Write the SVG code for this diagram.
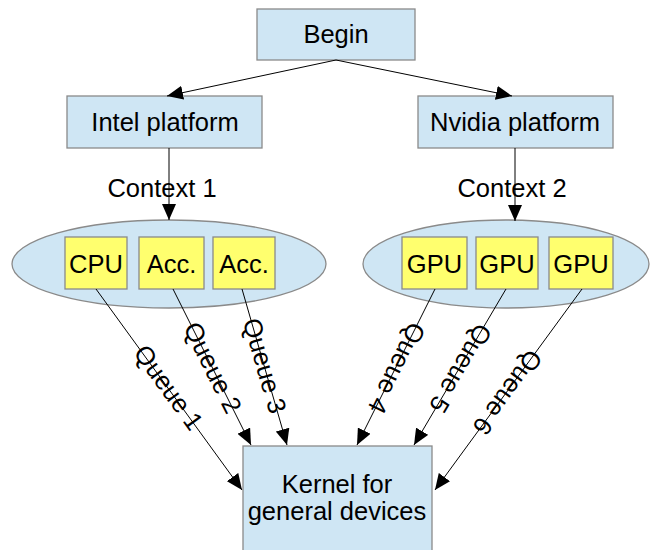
<svg xmlns="http://www.w3.org/2000/svg" width="652" height="550" viewBox="0 0 652 550">
<style>
text{font-family:"Liberation Sans",Arial,sans-serif;font-size:25.5px;fill:#000}
.box{fill:#cfe6f4;stroke:#8a8a8a;stroke-width:1.3}
.dev{fill:#ffff6e;stroke:#8a8a8a;stroke-width:1.3}
.ell{fill:#cfe6f4;stroke:#8a8a8a;stroke-width:1.3}
.c{stroke:#000;stroke-width:1;fill:none;marker-end:url(#ah)}
.m{text-anchor:middle}
</style>
<defs>
<marker id="ah" markerUnits="userSpaceOnUse" markerWidth="18" markerHeight="14" refX="16" refY="7" orient="auto">
<path d="M0,0 L16,7 L0,14 Z" fill="#000"/>
</marker>
</defs>
<g id="begin"><rect class="box" x="257" y="9" width="158" height="51"/><text class="m" x="336" y="43">Begin</text></g>
<g id="intel"><rect class="box" x="67" y="96" width="195" height="52"/><text class="m" x="165" y="131">Intel platform</text></g>
<g id="nvidia"><rect class="box" x="418" y="96" width="195" height="52"/><text class="m" x="515" y="131">Nvidia platform</text></g>
<g id="ctx1"><ellipse class="ell" cx="169" cy="264" rx="157" ry="44"/></g>
<g id="ctx2"><ellipse class="ell" cx="506" cy="264" rx="143" ry="44"/></g>
<g id="cpu"><rect class="dev" x="65" y="237" width="62" height="52"/><text class="m" x="96" y="273">CPU</text></g>
<g id="acc1"><rect class="dev" x="139" y="237" width="65" height="52"/><text class="m" x="171.5" y="273">Acc.</text></g>
<g id="acc2"><rect class="dev" x="213" y="237" width="62" height="52"/><text class="m" x="244" y="273">Acc.</text></g>
<g id="gpu1"><rect class="dev" x="402" y="237" width="65" height="52"/><text class="m" x="434.5" y="273">GPU</text></g>
<g id="gpu2"><rect class="dev" x="476" y="237" width="62" height="52"/><text class="m" x="507" y="273">GPU</text></g>
<g id="gpu3"><rect class="dev" x="549" y="237" width="64" height="52"/><text class="m" x="581" y="273">GPU</text></g>
<g id="kernel"><rect class="box" x="243" y="446" width="189" height="110"/><text class="m" x="337" y="493">Kernel for</text><text class="m" x="337" y="520">general devices</text></g>
<g id="connectors">
<line class="c" x1="336" y1="60" x2="167" y2="96"/>
<line class="c" x1="336" y1="60" x2="512" y2="96"/>
<line class="c" x1="169" y1="148" x2="169" y2="220"/>
<line class="c" x1="515" y1="148" x2="515" y2="221"/>
<line class="c" x1="96" y1="289" x2="242" y2="490"/>
<line class="c" x1="173" y1="289" x2="251" y2="445"/>
<line class="c" x1="242" y1="289" x2="287" y2="445"/>
<line class="c" x1="435" y1="289" x2="357" y2="445"/>
<line class="c" x1="506" y1="289" x2="414" y2="445"/>
<line class="c" x1="582" y1="289" x2="435" y2="490"/>
<text class="m" x="162" y="197">Context 1</text>
<text class="m" x="512" y="197">Context 2</text>
<text class="m" transform="translate(168,388) rotate(54)" y="8">Queue 1</text>
<text class="m" transform="translate(212,368) rotate(63.4)" y="8">Queue 2</text>
<text class="m" transform="translate(264,366) rotate(73.7)" y="8">Queue 3</text>
<text class="m" transform="translate(396,368) rotate(116.4)" y="8">Queue 4</text>
<text class="m" transform="translate(460,368) rotate(120.4)" y="8">Queue 5</text>
<text class="m" transform="translate(507,392) rotate(126.2)" y="8">Queue 6</text>
</g>
</svg>
